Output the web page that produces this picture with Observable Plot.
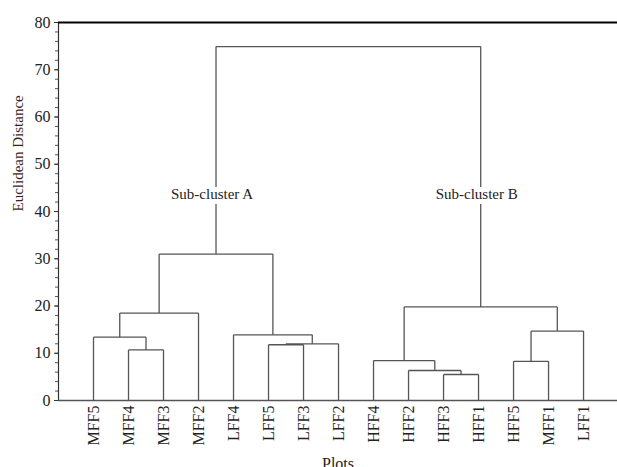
<!DOCTYPE html>
<html>
<head>
<meta charset="utf-8">
<script src="https://cdn.jsdelivr.net/npm/d3@7"></script>
<script src="https://cdn.jsdelivr.net/npm/@observablehq/plot@0.6"></script>
<style>
  html, body { margin: 0; padding: 0; background: #fff; }
</style>
</head>
<body>
<div id="chart"></div>
<script>
// Leaf order along the x axis
const leaves = ["MFF5","MFF4","MFF3","MFF2","LFF4","LFF5","LFF3","LFF2",
                "HFF4","HFF2","HFF3","HFF1","HFF5","MFF1","LFF1"];

// Merges: [childA, childB, height]; "#k" refers to merge k
const mergeA = ["MFF4","MFF5","#1","LFF5","#3","LFF4","#2","HFF3","HFF2","HFF4","HFF5","#10","#9","#6"];
const mergeB = ["MFF3","#0","MFF2","LFF3","LFF2","#4","#5","HFF1","#7","#8","MFF1","LFF1","#11","#12"];
const mergeHeight = [10.7, 13.4, 18.5, 11.8, 12.0, 13.9, 31.0, 5.5, 6.35, 8.45, 8.3, 14.7, 19.8, 74.9];

// Sub-cluster labels and the merge they annotate
const clusterLabels = ["Sub-cluster A", "Sub-cluster B"];
const clusterNodes = [6, 12];
const clusterLabelY = 43.6;

const yTicks = [0, 10, 20, 30, 40, 50, 60, 70, 80];

// Build dendrogram geometry in data space
const nodeX = [], nodeY = [];
function pos(ref) {
  if (ref.startsWith("#")) { const k = +ref.slice(1); return [nodeX[k], nodeY[k]]; }
  return [leaves.indexOf(ref) + 1, 0];
}
const segs = [];
mergeHeight.forEach((h, k) => {
  const [xa, ya] = pos(mergeA[k]);
  const [xb, yb] = pos(mergeB[k]);
  segs.push({x1: xa, y1: ya, x2: xa, y2: h});
  segs.push({x1: xb, y1: yb, x2: xb, y2: h});
  segs.push({x1: xa, y1: h, x2: xb, y2: h});
  nodeX[k] = (xa + xb) / 2; nodeY[k] = h;
});
const labels = clusterLabels.map((t, i) => ({text: t, x: nodeX[clusterNodes[i]], y: clusterLabelY}));

const chart = Plot.plot({
  width: 617,
  height: 467,
  marginLeft: 58,
  marginRight: 0,
  marginTop: 22,
  marginBottom: 67,
  style: {fontFamily: "'Liberation Serif', 'Times New Roman', serif", fontSize: "16px", color: "#222", background: "#fff"},
  x: {domain: [0, 15.97], axis: null},
  y: {domain: [0, 80], axis: null},
  marks: [
    Plot.link(segs, {x1: "x1", y1: "y1", x2: "x2", y2: "y2", stroke: "#555", strokeWidth: 1.3}),
    Plot.text(labels, {x: "x", y: "y", text: "text", dx: -4, fontSize: 15, fill: "#222",
                       stroke: "white", strokeWidth: 10, lineAnchor: "middle"}),
    Plot.axisY({ticks: d3.range(0, 81, 2), tickSize: 3, tickFormat: () => "", stroke: "#555"}),
    Plot.axisY({ticks: yTicks, tickSize: 4, tickPadding: 4, fontSize: 16, stroke: "#333", label: null}),
    Plot.axisX({ticks: d3.range(1, 16), tickFormat: i => leaves[i - 1], tickRotate: -90,
                tickSize: 0, tickPadding: 5, fontSize: 16, label: null}),
    Plot.ruleX([0], {stroke: "#333", strokeWidth: 1.2}),
    Plot.ruleY([0], {stroke: "#555", strokeWidth: 1.3}),
    Plot.ruleY([80], {stroke: "#000", strokeWidth: 1.8}),
    Plot.text(["Euclidean Distance"], {frameAnchor: "left", dx: -40, rotate: -90, fontSize: 15, fill: "#3b1f1f"}),
    Plot.text(["Plots"], {frameAnchor: "bottom", dy: 68, fontSize: 16, fill: "#222"})
  ]
});
document.getElementById("chart").appendChild(chart);
</script>
</body>
</html>
